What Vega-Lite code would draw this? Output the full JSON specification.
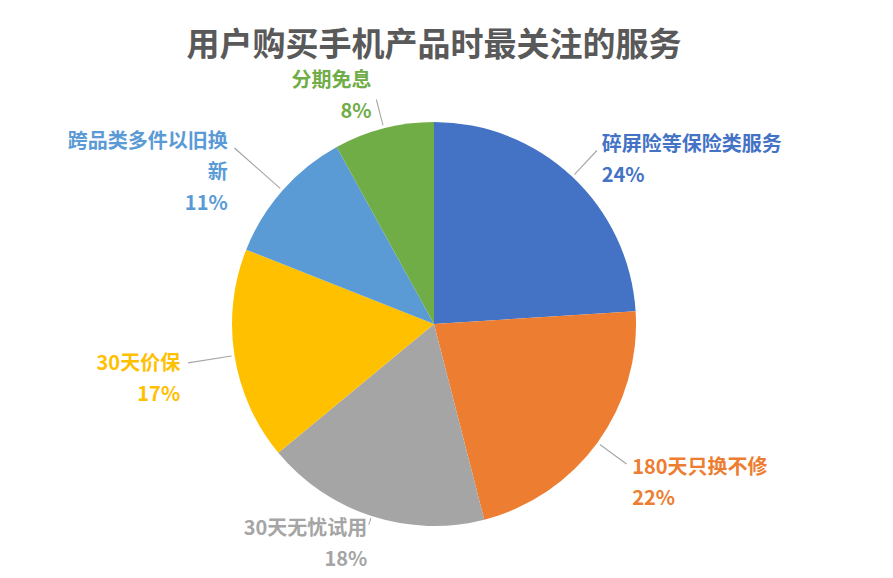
{
  "$schema": "https://vega.github.io/schema/vega-lite/v6.json",
  "width": 868,
  "height": 508,
  "autosize": "none",
  "padding": {"top": 70, "left": 0, "right": 25, "bottom": 0},
  "background": "white",
  "view": {"stroke": null},
  "title": {
    "text": "用户购买手机产品时最关注的服务",
    "fontSize": 33,
    "fontWeight": "bold",
    "color": "#595959",
    "font": "Noto Sans CJK SC",
    "anchor": "middle",
    "offset": 7
  },
  "data": {
    "values": [
      {"service": "碎屏险等保险类服务", "label": "碎屏险等保险类服务", "pct": 24},
      {"service": "180天只换不修", "label": "180天只换不修", "pct": 22},
      {"service": "30天无忧试用", "label": "30天无忧试用", "pct": 18},
      {"service": "30天价保", "label": "30天价保", "pct": 17},
      {"service": "跨品类多件以旧换新", "label": "跨品类多件以旧换\n新", "pct": 11},
      {"service": "分期免息", "label": "分期免息", "pct": 8}
    ]
  },
  "transform": [
    {"window": [{"op": "row_number", "as": "idx"}]},
    {"window": [{"op": "sum", "field": "pct", "as": "cum"}], "sort": [{"field": "idx", "order": "ascending"}], "frame": [null, 0]},
    {"calculate": "datum.cum - datum.pct", "as": "start"},
    {"calculate": "datum.cum - datum.pct / 2", "as": "mid"},
    {"calculate": "datum.mid - 0.04", "as": "m0"},
    {"calculate": "datum.mid + 0.04", "as": "m1"},
    {"calculate": "datum.label + '\\n' + datum.pct + '%'", "as": "txt"}
  ],
  "layer": [
    {
      "mark": {"type": "arc", "outerRadius": 202},
      "encoding": {
        "theta": {"field": "start", "type": "quantitative", "scale": {"domain": [0, 100], "range": [0, 6.283185307179586]}},
        "theta2": {"field": "cum"},
        "color": {
          "field": "service",
          "type": "nominal",
          "scale": {
            "domain": ["碎屏险等保险类服务", "180天只换不修", "30天无忧试用", "30天价保", "跨品类多件以旧换新", "分期免息"],
            "range": ["#4472C4", "#ED7D31", "#A5A5A5", "#FFC000", "#5B9BD5", "#70AD47"]
          },
          "legend": null
        }
      }
    },
    {
      "transform": [{"filter": "datum.mid < 40"}],
      "mark": {"type": "arc", "innerRadius": 205, "outerRadius": 238, "color": "#A6A6A6"},
      "encoding": {"theta": {"field": "m0", "type": "quantitative"}, "theta2": {"field": "m1"}}
    },
    {
      "transform": [{"filter": "datum.mid >= 40 && datum.mid < 60"}],
      "mark": {"type": "arc", "innerRadius": 204, "outerRadius": 211, "color": "#A6A6A6"},
      "encoding": {"theta": {"field": "m0", "type": "quantitative"}, "theta2": {"field": "m1"}}
    },
    {
      "transform": [{"filter": "datum.mid >= 60 && datum.mid < 80"}],
      "mark": {"type": "arc", "innerRadius": 205, "outerRadius": 249, "color": "#A6A6A6"},
      "encoding": {"theta": {"field": "m0", "type": "quantitative"}, "theta2": {"field": "m1"}}
    },
    {
      "transform": [{"filter": "datum.mid >= 80 && datum.mid < 90"}],
      "mark": {"type": "arc", "innerRadius": 205, "outerRadius": 266, "color": "#A6A6A6"},
      "encoding": {"theta": {"field": "m0", "type": "quantitative"}, "theta2": {"field": "m1"}}
    },
    {
      "transform": [{"filter": "datum.mid >= 90"}],
      "mark": {"type": "arc", "innerRadius": 205, "outerRadius": 232, "color": "#A6A6A6"},
      "encoding": {"theta": {"field": "m0", "type": "quantitative"}, "theta2": {"field": "m1"}}
    },
    {
      "transform": [{"filter": "datum.mid < 40"}],
      "mark": {"type": "text", "radius": 245, "align": "left", "baseline": "middle", "font": "Noto Sans CJK SC", "fontSize": 20, "fontWeight": "bold", "lineBreak": "\n", "lineHeight": 31},
      "encoding": {
        "theta": {"field": "mid", "type": "quantitative"},
        "text": {"field": "txt"},
        "color": {"field": "service", "type": "nominal", "legend": null}
      }
    },
    {
      "transform": [{"filter": "datum.mid >= 40 && datum.mid < 60"}],
      "mark": {"type": "text", "radius": 216, "align": "right", "baseline": "middle", "font": "Noto Sans CJK SC", "fontSize": 20, "fontWeight": "bold", "lineBreak": "\n", "lineHeight": 31},
      "encoding": {
        "theta": {"field": "mid", "type": "quantitative"},
        "text": {"field": "txt"},
        "color": {"field": "service", "type": "nominal", "legend": null}
      }
    },
    {
      "transform": [{"filter": "datum.mid >= 60 && datum.mid < 80"}],
      "mark": {"type": "text", "radius": 257, "align": "right", "baseline": "middle", "font": "Noto Sans CJK SC", "fontSize": 20, "fontWeight": "bold", "lineBreak": "\n", "lineHeight": 31},
      "encoding": {
        "theta": {"field": "mid", "type": "quantitative"},
        "text": {"field": "txt"},
        "color": {"field": "service", "type": "nominal", "legend": null}
      }
    },
    {
      "transform": [{"filter": "datum.mid >= 80 && datum.mid < 90"}],
      "mark": {"type": "text", "radius": 275, "align": "right", "baseline": "middle", "font": "Noto Sans CJK SC", "fontSize": 20, "fontWeight": "bold", "lineBreak": "\n", "lineHeight": 31},
      "encoding": {
        "theta": {"field": "mid", "type": "quantitative"},
        "text": {"field": "txt"},
        "color": {"field": "service", "type": "nominal", "legend": null}
      }
    },
    {
      "transform": [{"filter": "datum.mid >= 90"}],
      "mark": {"type": "text", "radius": 251, "align": "right", "baseline": "middle", "font": "Noto Sans CJK SC", "fontSize": 20, "fontWeight": "bold", "lineBreak": "\n", "lineHeight": 31},
      "encoding": {
        "theta": {"field": "mid", "type": "quantitative"},
        "text": {"field": "txt"},
        "color": {"field": "service", "type": "nominal", "legend": null}
      }
    }
  ]
}
